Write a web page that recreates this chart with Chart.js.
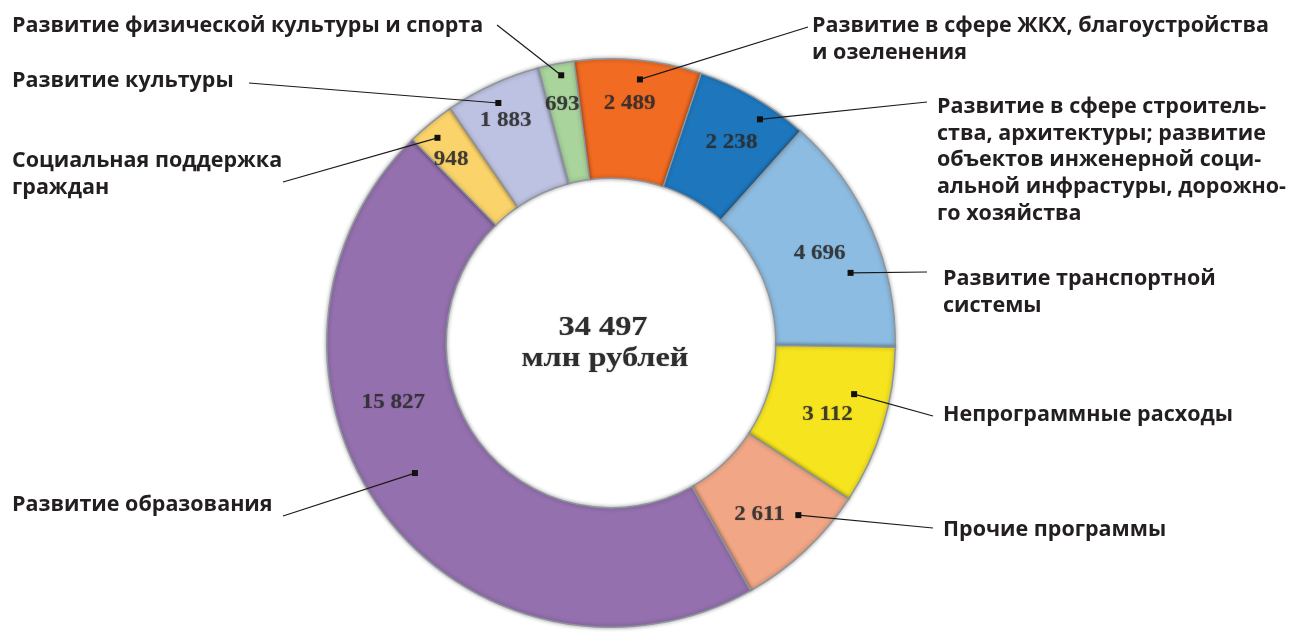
<!DOCTYPE html>
<html>
<head>
<meta charset="utf-8">
<script src="https://cdn.jsdelivr.net/npm/chart.js@4/dist/chart.umd.min.js"></script>
<style>
html,body{margin:0;padding:0;background:#fff;}
#wrap{width:1289px;height:633px;position:relative;}
</style>
</head>
<body>
<div id="wrap"><canvas id="c" width="1289" height="633"></canvas></div>
<script>
// ---- data ----
const categories = [
  "Развитие в сфере ЖКХ, благоустройства и озеленения",
  "Развитие в сфере строительства, архитектуры; развитие объектов инженерной социальной инфрастуры, дорожного хозяйства",
  "Развитие транспортной системы",
  "Непрограммные расходы",
  "Прочие программы",
  "Развитие образования",
  "Социальная поддержка граждан",
  "Развитие культуры",
  "Развитие физической культуры и спорта"
];
const values = [2489, 2238, 4696, 3112, 2611, 15827, 948, 1883, 693];
const valueLabels = ["2 489", "2 238", "4 696", "3 112", "2 611", "15 827", "948", "1 883", "693"];
const totalLabel = ["34 497", "млн рублей"];
const labelLines = [
  ["Развитие в сфере ЖКХ, благоустройства", "и озеленения"],
  ["Развитие в сфере строитель-", "ства, архитектуры; развитие", "объектов инженерной соци-", "альной инфрастуры, дорожно-", "го хозяйства"],
  ["Развитие транспортной", "системы"],
  ["Непрограммные расходы"],
  ["Прочие программы"],
  ["Развитие образования"],
  ["Социальная поддержка", "граждан"],
  ["Развитие культуры"],
  ["Развитие физической культуры и спорта"]
];

// ---- styles / layout ----
const colors = ["#F26B22", "#1E77BD", "#8CBCE2", "#F6E41F", "#F1A685", "#9470AE", "#FBD36B", "#BEC2E2", "#A9D49C"];
// value text anchor inside slice: [fraction along angle, fraction across ring]
const valuePos = [[0.46,0.63],[0.535,0.58],[0.51,0.52],[0.54,0.53],[0.58,0.52],[0.63,0.51],[0.33,0.66],[0.46,0.68],[0.44,0.66]];
// leader marker inside slice
const markerPos = [[0.53,0.84],[0.65,0.87],[0.65,0.71],[0.34,0.70],[0.34,0.75],[0.52,0.59],[0.41,0.87],[0.47,0.84],[0.58,0.90]];
// label text block: x, first-line y ; line end near label
const labelBox = [
  {x:812, y:26, lineEnd:[808,27]},
  {x:937, y:107, lineEnd:[927,102]},
  {x:943, y:279, lineEnd:[927,272]},
  {x:943, y:415, lineEnd:[933,416]},
  {x:943, y:530, lineEnd:[933,528]},
  {x:12, y:505, lineEnd:[283,516]},
  {x:12, y:161, lineEnd:[283,182]},
  {x:12, y:81, lineEnd:[249,83]},
  {x:12, y:26, lineEnd:[497,25]}
];

function arcPoint(el, fa, fr){
  const p = el.getProps(['x','y','startAngle','endAngle','innerRadius','outerRadius'], true);
  const a = p.startAngle + fa*(p.endAngle - p.startAngle);
  const r = p.innerRadius + fr*(p.outerRadius - p.innerRadius);
  return [p.x + Math.cos(a)*r, p.y + Math.sin(a)*r];
}

const shadowPlugin = {
  id:'shadow',
  beforeDatasetsDraw(chart){
    const ctx = chart.ctx; ctx.save();
    ctx.shadowColor = 'rgba(0,0,0,0.35)'; ctx.shadowBlur = 4;
  },
  afterDatasetsDraw(chart){ chart.ctx.restore(); }
};

const annot = {
  id:'annot',
  afterDraw(chart){
    const ctx = chart.ctx;
    const meta = chart.getDatasetMeta(0);
    // value labels
    meta.data.forEach((el, i) => {
      const [x, y] = arcPoint(el, valuePos[i][0], valuePos[i][1]);
      ctx.save();
      ctx.translate(x, y); ctx.scale(1.1, 1);
      ctx.font = 'bold 21px "Liberation Serif", "Times New Roman", serif';
      ctx.fillStyle = 'rgba(45,45,45,0.88)';
      ctx.textAlign = 'center'; ctx.textBaseline = 'middle';
      ctx.shadowColor = 'rgba(0,0,0,0.3)'; ctx.shadowBlur = 1.5;
      ctx.fillText(valueLabels[i], 0, 0);
      ctx.restore();
    });
    // center text
    const c = meta.data[0].getProps(['x','y'], true);
    [[totalLabel[0], -8, -15], [totalLabel[1], -6, 16]].forEach(([t, dx, dy]) => {
      ctx.save();
      ctx.font = 'bold 27px "Liberation Serif", "Times New Roman", serif';
      ctx.fillStyle = '#2e2e2e'; ctx.textAlign = 'center'; ctx.textBaseline = 'middle';
      ctx.shadowColor = 'rgba(0,0,0,0.35)'; ctx.shadowBlur = 1.5;
      ctx.translate(c.x + dx, c.y + dy); ctx.scale(1.2, 1); ctx.fillText(t, 0, 0);
      ctx.restore();
    });
    // leader lines + category labels
    meta.data.forEach((el, i) => {
      const [mx, my] = arcPoint(el, markerPos[i][0], markerPos[i][1]);
      const b = labelBox[i];
      ctx.save();
      ctx.strokeStyle = '#1a1a1a'; ctx.lineWidth = 1.2;
      ctx.beginPath(); ctx.moveTo(b.lineEnd[0], b.lineEnd[1]); ctx.lineTo(mx, my); ctx.stroke();
      ctx.fillStyle = '#111';
      ctx.fillRect(mx - 3, my - 3, 6, 6);
      ctx.font = 'bold 21.5px "Open Sans", "Noto Sans", sans-serif';
      ctx.fillStyle = '#231f20'; ctx.textAlign = 'left'; ctx.textBaseline = 'middle';
      labelLines[i].forEach((ln, k) => ctx.fillText(ln, b.x, b.y + k*26.6));
      ctx.restore();
    });
  }
};

new Chart(document.getElementById('c'), {
  type: 'doughnut',
  data: {
    labels: categories,
    datasets: [{
      data: values,
      backgroundColor: colors,
      borderColor: '#8e969c',
      borderWidth: 1.5
    }]
  },
  options: {
    responsive: false,
    animation: false,
    rotation: -7.5,
    cutout: '58%',
    layout: { padding: { left: 326, right: 393, top: 58, bottom: 5 } },
    plugins: { legend: { display: false }, tooltip: { enabled: false } }
  },
  plugins: [shadowPlugin, annot]
});
</script>
</body>
</html>
